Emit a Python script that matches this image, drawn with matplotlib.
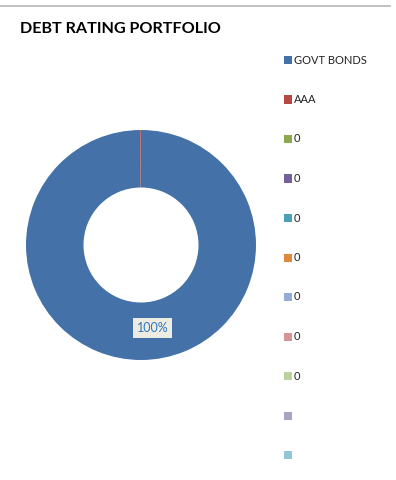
import matplotlib
matplotlib.use("Agg")
import matplotlib.pyplot as plt
from matplotlib.patches import Rectangle
from matplotlib.lines import Line2D

# Portfolio composition by debt rating
categories = ["GOVT BONDS", "AAA", "0", "0", "0", "0", "0", "0", "0", "", ""]
values = [99.9, 0.1, 0, 0, 0, 0, 0, 0, 0, 0, 0]
colors = ["#4472A8", "#B64845", "#8CAA4D", "#7460A0", "#4AA0B8", "#E0883C",
          "#95ACD6", "#D69594", "#BBD29A", "#ADA0C8", "#93C6DA"]
title = "DEBT RATING PORTFOLIO"

W, H = 396, 480
fig = plt.figure(figsize=(W / 100, H / 100), dpi=100)
fig.patch.set_facecolor("white")

# thin grey rule along the top edge
fig.add_artist(Line2D([0, 390 / W], [1 - 5.5 / H, 1 - 5.5 / H],
                      transform=fig.transFigure, color="#BDBDBD", lw=1.3))

fig.text(20 / W, 1 - 29 / H, title, fontsize=11.6, fontweight="bold",
         family="Lato", color="black", va="center", ha="left")

# donut
cx, cy, r = 141, 245, 115
ax = fig.add_axes([(cx - r) / W, (H - cy - r) / H, 2 * r / W, 2 * r / H])
nz = [(v, c) for v, c in zip(values, colors) if v > 0]
wedges, _ = ax.pie([v for v, _ in nz], colors=[c for _, c in nz],
                   startangle=90, counterclock=False, radius=1,
                   wedgeprops=dict(width=0.5, edgecolor="none"))
ax.set_xlim(-1, 1)
ax.set_ylim(-1, 1)
ax.set_aspect("equal")
ax.axis("off")

total = sum(values)
ax.text(0.1, -0.72, f"{values[0] / total * 100:.0f}%", fontsize=9,
        family="Lato", color="#2E78BE", ha="center", va="center",
        bbox=dict(boxstyle="square,pad=0.3", fc="#EEECE1", ec="none"))

# legend
y0, step = 60, 39.5
sq = 8
for i, (lab, col) in enumerate(zip(categories, colors)):
    y = y0 + i * step
    fig.add_artist(Rectangle((284 / W, (H - y - sq / 2) / H), sq / W, sq / H,
                             transform=fig.transFigure, fc=col, ec="none"))
    fig.text(294 / W, 1 - y / H, lab, fontsize=8, family="Lato",
             color="#222222", va="center", ha="left")

fig.savefig("out.png", dpi=100)
